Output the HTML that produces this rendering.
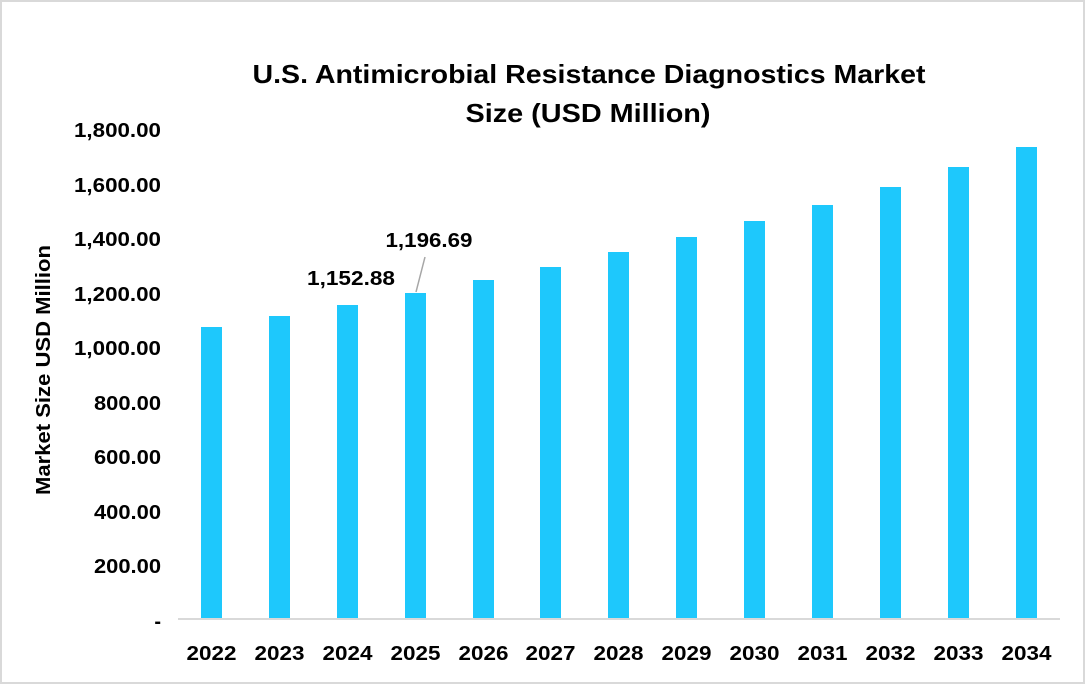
<!DOCTYPE html>
<html><head><meta charset="utf-8"><style>
html,body{margin:0;padding:0;background:#fff}
svg{display:block}
text{font-family:"Liberation Sans",sans-serif;font-weight:bold;fill:#000}
</style></head><body>
<svg width="1085" height="684" viewBox="0 0 1085 684">
<rect x="1" y="1" width="1083" height="682" fill="#fff" stroke="#d9d9d9" stroke-width="2"/>
<text x="589" y="83" font-size="26" text-anchor="middle" textLength="673" lengthAdjust="spacingAndGlyphs">U.S. Antimicrobial Resistance Diagnostics Market</text>
<text x="588" y="122" font-size="26" text-anchor="middle" textLength="245" lengthAdjust="spacingAndGlyphs">Size (USD Million)</text>
<g font-size="20" text-anchor="end">
<text x="161" y="137" textLength="87" lengthAdjust="spacingAndGlyphs">1,800.00</text>
<text x="161" y="192" textLength="87" lengthAdjust="spacingAndGlyphs">1,600.00</text>
<text x="161" y="246" textLength="87" lengthAdjust="spacingAndGlyphs">1,400.00</text>
<text x="161" y="301" textLength="87" lengthAdjust="spacingAndGlyphs">1,200.00</text>
<text x="161" y="355" textLength="87" lengthAdjust="spacingAndGlyphs">1,000.00</text>
<text x="161" y="410" textLength="67" lengthAdjust="spacingAndGlyphs">800.00</text>
<text x="161" y="464" textLength="67" lengthAdjust="spacingAndGlyphs">600.00</text>
<text x="161" y="519" textLength="67" lengthAdjust="spacingAndGlyphs">400.00</text>
<text x="161" y="573" textLength="67" lengthAdjust="spacingAndGlyphs">200.00</text>
<text x="161" y="628">-</text>
</g>
<text transform="translate(50,370) rotate(-90)" font-size="20" text-anchor="middle" textLength="250" lengthAdjust="spacingAndGlyphs">Market Size USD Million</text>
<line x1="178" y1="619" x2="1060" y2="619" stroke="#d9d9d9" stroke-width="2"/>
<g fill="#1ec8fc">
<rect x="201" y="327" width="21" height="291"/>
<rect x="269" y="316" width="21" height="302"/>
<rect x="337" y="305" width="21" height="313"/>
<rect x="405" y="293" width="21" height="325"/>
<rect x="473" y="280" width="21" height="338"/>
<rect x="540" y="267" width="21" height="351"/>
<rect x="608" y="252" width="21" height="366"/>
<rect x="676" y="237" width="21" height="381"/>
<rect x="744" y="221" width="21" height="397"/>
<rect x="812" y="205" width="21" height="413"/>
<rect x="880" y="187" width="21" height="431"/>
<rect x="948" y="167" width="21" height="451"/>
<rect x="1016" y="147" width="21" height="471"/>
</g>
<g font-size="20" text-anchor="middle">
<text x="211.5" y="660" textLength="50" lengthAdjust="spacingAndGlyphs">2022</text>
<text x="279.5" y="660" textLength="50" lengthAdjust="spacingAndGlyphs">2023</text>
<text x="347.5" y="660" textLength="50" lengthAdjust="spacingAndGlyphs">2024</text>
<text x="415.5" y="660" textLength="50" lengthAdjust="spacingAndGlyphs">2025</text>
<text x="483.5" y="660" textLength="50" lengthAdjust="spacingAndGlyphs">2026</text>
<text x="550.5" y="660" textLength="50" lengthAdjust="spacingAndGlyphs">2027</text>
<text x="618.5" y="660" textLength="50" lengthAdjust="spacingAndGlyphs">2028</text>
<text x="686.5" y="660" textLength="50" lengthAdjust="spacingAndGlyphs">2029</text>
<text x="754.5" y="660" textLength="50" lengthAdjust="spacingAndGlyphs">2030</text>
<text x="822.5" y="660" textLength="50" lengthAdjust="spacingAndGlyphs">2031</text>
<text x="890.5" y="660" textLength="50" lengthAdjust="spacingAndGlyphs">2032</text>
<text x="958.5" y="660" textLength="50" lengthAdjust="spacingAndGlyphs">2033</text>
<text x="1026.5" y="660" textLength="50" lengthAdjust="spacingAndGlyphs">2034</text>
</g>
<line x1="416" y1="292" x2="425" y2="257" stroke="#a6a6a6" stroke-width="1.5"/>
<text x="351" y="285" font-size="20" text-anchor="middle" textLength="88" lengthAdjust="spacingAndGlyphs">1,152.88</text>
<text x="429" y="247" font-size="20" text-anchor="middle" textLength="87" lengthAdjust="spacingAndGlyphs">1,196.69</text>
</svg>
</body></html>
